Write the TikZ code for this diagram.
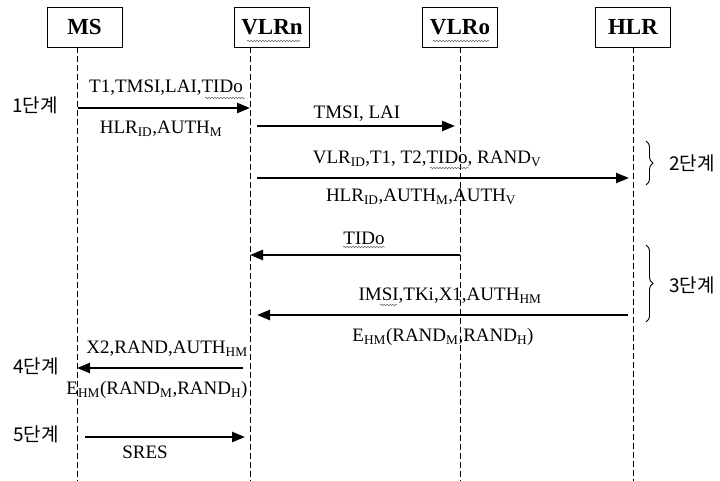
\documentclass[tikz,border=0pt]{standalone}
\usepackage{fontspec}
\setmainfont{Liberation Serif}
\newfontfamily\kr{Noto Sans CJK KR}
\usetikzlibrary{arrows.meta,decorations.pathreplacing,decorations.pathmorphing}
\begin{document}
\begin{tikzpicture}[x=1pt,y=-1pt,
  actor/.style={draw,line width=0.8pt,minimum width=75pt,minimum height=40pt,inner sep=0pt,font=\fontsize{23}{25}\selectfont\bfseries},
  life/.style={line width=0.8pt,dash pattern=on 6pt off 3pt},
  msg/.style={line width=2.4pt,-{Triangle[length=13pt,width=10pt]}},
  lbl/.style={font=\fontsize{19}{21}\selectfont,inner sep=0pt},
  stage/.style={font=\kr\fontsize{19}{21}\selectfont,inner sep=0pt},
  wavy/.style={draw=black!60,line width=0.5pt,decorate,decoration={snake,amplitude=0.8pt,segment length=3pt}},
  brc/.style={line width=0.9pt,decorate,decoration={brace,amplitude=7pt}}]
\useasboundingbox (0,0) rectangle (720,481);
% actors
\node[actor] (ms) at (84.5,27.5) {MS};
\node[actor] (vlrn) at (272,27.5) {VLRn};
\node[actor] (vlro) at (460,27.5) {VLRo};
\node[actor] (hlr) at (633,27) {HLR};
% lifelines
\coordinate (msT) at (77,47.5);   \coordinate (msB) at (77,481);
\coordinate (vnT) at (250,47.5);  \coordinate (vnB) at (250,481);
\coordinate (voT) at (460,47.5);  \coordinate (voB) at (460,481);
\coordinate (hT) at (633,47);     \coordinate (hB) at (633,481);
\draw[life] (msT) -- (msB);
\draw[life] (vnT) -- (vnB);
\draw[life] (voT) -- (voB);
\draw[life] (hT) -- (hB);
% spell-check squiggles
\draw[wavy] (247,41) -- (300,41);
\draw[wavy] (433,41) -- (489,41);
% step 1
\coordinate (m1s) at (78,108); \coordinate (m1e) at (250,108);
\draw[msg] (m1s) -- (m1e);
\node[lbl] (l1a) at (166,88) {T1,TMSI,LAI,TIDo};
\node[lbl] (l1b) at (161,129) {HLR\textsubscript{ID},AUTH\textsubscript{M}};
\draw[wavy] (205,98) -- (245,98);
\node[stage] (s1) at (35,105) {1단계};
% step 2
\coordinate (m2s) at (257,126); \coordinate (m2e) at (455,126);
\draw[msg] (m2s) -- (m2e);
\node[lbl] (l2) at (357,114) {TMSI, LAI};
\coordinate (m3s) at (257,178); \coordinate (m3e) at (629,178);
\draw[msg] (m3s) -- (m3e);
\node[lbl] (l3a) at (427,159) {VLR\textsubscript{ID},T1, T2,TIDo, RAND\textsubscript{V}};
\draw[wavy] (430,168) -- (469,168);
\node[lbl] (l3b) at (421,197) {HLR\textsubscript{ID},AUTH\textsubscript{M},AUTH\textsubscript{V}};
\coordinate (b2t) at (646,141); \coordinate (b2b) at (646,185);
\draw[brc] (b2t) -- (b2b);
\node[stage] (s2) at (692,163) {2단계};
% step 3
\coordinate (m4s) at (460,255); \coordinate (m4e) at (250,255);
\draw[msg] (m4s) -- (m4e);
\node[lbl] (l4) at (364,238) {TIDo};
\draw[wavy] (343,247) -- (385,247);
\coordinate (m5s) at (628,315); \coordinate (m5e) at (257,315);
\draw[msg] (m5s) -- (m5e);
\node[lbl] (l5a) at (450,296) {IMSI,TKi,X1,AUTH\textsubscript{HM}};
\draw[wavy] (380,305) -- (397,305);
\node[lbl] (l5b) at (443,337) {E\textsubscript{HM}(RAND\textsubscript{M},RAND\textsubscript{H})};
\coordinate (b3t) at (646,245); \coordinate (b3b) at (646,322);
\draw[brc] (b3t) -- (b3b);
\node[stage] (s3) at (692,285) {3단계};
% step 4
\coordinate (m6s) at (243,368); \coordinate (m6e) at (77,368);
\draw[msg] (m6s) -- (m6e);
\node[lbl] (l6a) at (167,349) {X2,RAND,AUTH\textsubscript{HM}};
\node[lbl] (l6b) at (157,390) {E\textsubscript{HM}(RAND\textsubscript{M},RAND\textsubscript{H})};
\node[stage] (s4) at (36,366) {4단계};
% step 5
\coordinate (m7s) at (85,437); \coordinate (m7e) at (245,437);
\draw[msg] (m7s) -- (m7e);
\node[lbl] (l7) at (145,452) {SRES};
\node[stage] (s5) at (36,434) {5단계};
\end{tikzpicture}
\end{document}
